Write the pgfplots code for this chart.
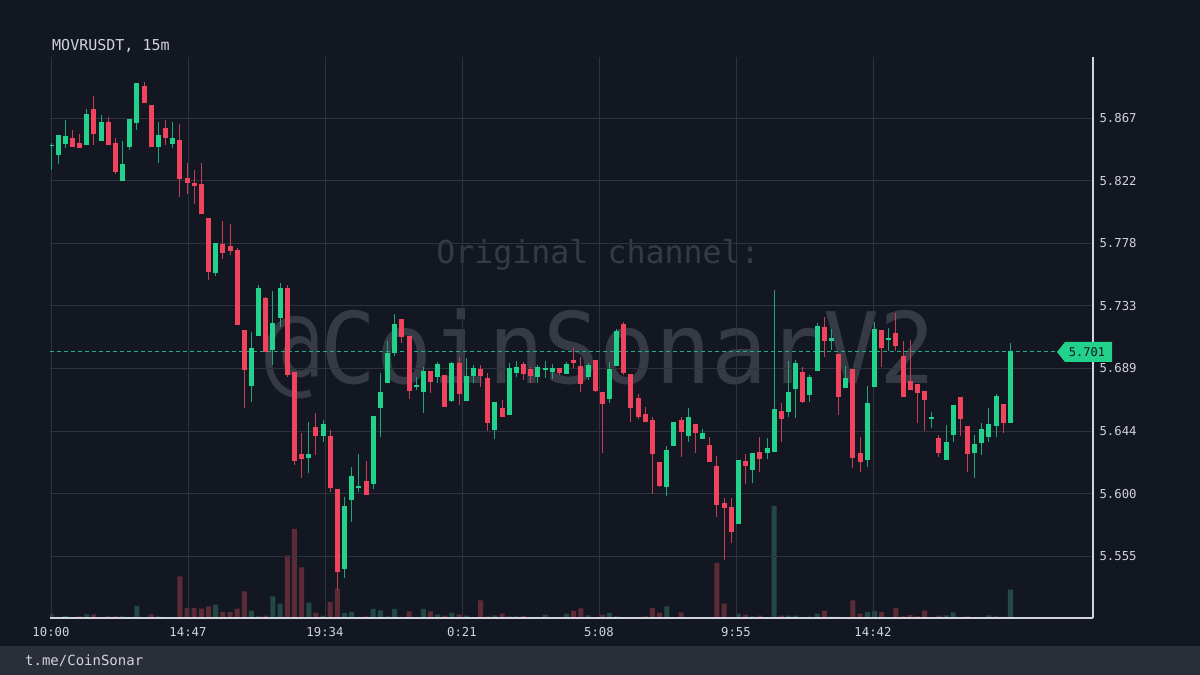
\documentclass[border=0pt]{standalone}
\usepackage{pgfplots}
\pgfplotsset{compat=1.18}
\usepackage{pgfplotstable}
\usepackage{fontspec}
\setmainfont{DejaVu Sans Mono}

\definecolor{bg}{HTML}{131722}
\definecolor{foot}{HTML}{2A2E39}
\definecolor{gridc}{HTML}{2E323D}
\definecolor{lbl}{HTML}{D1D4DC}
\definecolor{wm}{HTML}{363A45}
\definecolor{upc}{HTML}{22D18B}
\definecolor{dnc}{HTML}{F0435D}
\definecolor{upw}{HTML}{1FA676}
\definecolor{dnw}{HTML}{C63E52}
\definecolor{upv}{HTML}{244843}
\definecolor{dnv}{HTML}{5C2B36}
\definecolor{dashc}{HTML}{1FB08A}

% i open high low close volume(px)
\pgfplotstableread{
i o h l c v
0 5.8470 5.8490 5.8300 5.8480 4
1 5.8407 5.8549 5.8340 5.8549 1
2 5.8485 5.8656 5.8460 5.8540 2
3 5.8528 5.8585 5.8464 5.8464 0.5
4 5.8492 5.8556 5.8456 5.8456 1.5
5 5.8478 5.8734 5.8478 5.8698 3.7
6 5.8734 5.8827 5.8478 5.8556 3.7
7 5.8506 5.8691 5.8506 5.8642 0.5
8 5.8642 5.8677 5.8478 5.8478 1.5
9 5.8492 5.8528 5.8271 5.8286 1.5
10 5.8222 5.8506 5.8222 5.8343 1.7
11 5.8464 5.8663 5.8442 5.8663 0.7
12 5.8634 5.8919 5.8585 5.8919 12
13 5.8898 5.8926 5.8777 5.8777 0.5
14 5.8763 5.8763 5.8464 5.8464 3.7
15 5.8464 5.8642 5.8350 5.8549 1.7
16 5.8599 5.8656 5.8478 5.8528 0.5
17 5.8485 5.8642 5.8456 5.8528 0.5
18 5.8513 5.8627 5.8108 5.8236 41.7
19 5.8243 5.8350 5.8129 5.8207 10
20 5.8207 5.8300 5.8058 5.8186 10
21 5.8200 5.8350 5.7987 5.7987 9.3
22 5.7958 5.7958 5.7517 5.7574 11.7
23 5.7567 5.7780 5.7545 5.7780 13.3
24 5.7773 5.7937 5.7666 5.7709 6
25 5.7759 5.7916 5.7695 5.7723 6
26 5.7730 5.7745 5.7197 5.7197 9.3
27 5.7161 5.7161 5.6606 5.6877 26.7
28 5.6763 5.7147 5.6649 5.7033 7.3
29 5.7119 5.7481 5.7119 5.7460 1.7
30 5.7389 5.7396 5.7005 5.7005 2.3
31 5.7019 5.7439 5.6912 5.7211 21.7
32 5.7247 5.7496 5.7183 5.7460 14.3
33 5.7460 5.7481 5.6827 5.6841 62.7
34 5.6862 5.6862 5.6200 5.6229 89
35 5.6279 5.6428 5.6108 5.6243 50.7
36 5.6253 5.6506 5.6144 5.6281 15.3
37 5.6471 5.6570 5.6274 5.6407 5
38 5.6407 5.6520 5.6364 5.6492 2.3
39 5.6407 5.6449 5.6008 5.6037 16
40 5.6030 5.6030 5.5311 5.5439 29.3
41 5.5460 5.5972 5.5396 5.5908 5
42 5.5951 5.6186 5.5795 5.6122 6
43 5.6037 5.6279 5.6008 5.6051 1
44 5.6086 5.6229 5.5987 5.5987 1.7
45 5.6065 5.6549 5.6030 5.6549 9
46 5.6606 5.6855 5.6400 5.6720 7.7
47 5.6784 5.7083 5.6784 5.6997 1.7
48 5.6997 5.7275 5.6976 5.7204 9
49 5.7240 5.7240 5.7069 5.7111 1
50 5.7119 5.7119 5.6670 5.6727 6.7
51 5.6755 5.6827 5.6734 5.6770 0.5
52 5.6720 5.6898 5.6570 5.6870 9
53 5.6870 5.6870 5.6713 5.6791 6.7
54 5.6827 5.6933 5.6784 5.6919 3.3
55 5.6841 5.6841 5.6613 5.6613 2.3
56 5.6656 5.6933 5.6649 5.6926 5
57 5.6926 5.6970 5.6627 5.6706 3.7
58 5.6656 5.6962 5.6656 5.6834 2.3
59 5.6834 5.6912 5.6784 5.6891 0.7
60 5.6884 5.6912 5.6755 5.6834 17.7
61 5.6819 5.6855 5.6442 5.6499 1.7
62 5.6449 5.6649 5.6386 5.6649 2.7
63 5.6606 5.6663 5.6542 5.6542 4.3
64 5.6556 5.6926 5.6556 5.6891 1.7
65 5.6855 5.6940 5.6827 5.6898 1.7
66 5.6919 5.6933 5.6805 5.6848 2
67 5.6884 5.6898 5.6784 5.6834 1
68 5.6827 5.6912 5.6784 5.6898 1
69 5.6884 5.6940 5.6819 5.6891 3.3
70 5.6862 5.6919 5.6812 5.6891 0.7
71 5.6891 5.6891 5.6841 5.6855 1
72 5.6848 5.6933 5.6848 5.6919 4.3
73 5.6948 5.7033 5.6891 5.6926 7
74 5.6905 5.6970 5.6720 5.6777 9.7
75 5.6827 5.6926 5.6805 5.6912 2.7
76 5.6948 5.6948 5.6720 5.6727 0.5
77 5.6720 5.6720 5.6288 5.6634 3.3
78 5.6670 5.6933 5.6642 5.6884 5
79 5.6905 5.7168 5.6905 5.7154 1.7
80 5.7204 5.7218 5.6841 5.6855 0.5
81 5.6848 5.6848 5.6506 5.6606 1
82 5.6677 5.6706 5.6528 5.6542 1
83 5.6563 5.6613 5.6506 5.6506 1.7
84 5.6520 5.6542 5.5994 5.6279 10
85 5.6222 5.6222 5.6044 5.6051 5.3
86 5.6044 5.6335 5.5980 5.6307 11.7
87 5.6335 5.6506 5.6335 5.6506 0.5
88 5.6520 5.6542 5.6257 5.6435 5.7
89 5.6407 5.6606 5.6364 5.6542 0.5
90 5.6492 5.6492 5.6286 5.6428 0.5
91 5.6385 5.6456 5.6385 5.6428 0.5
92 5.6343 5.6400 5.6222 5.6222 0.5
93 5.6193 5.6264 5.5830 5.5915 55
94 5.5930 5.5965 5.5524 5.5894 14.3
95 5.5901 5.5965 5.5645 5.5723 1
96 5.5781 5.6236 5.5781 5.6236 4.3
97 5.6229 5.6279 5.6065 5.6193 3.3
98 5.6165 5.6286 5.6072 5.6286 1.7
99 5.6293 5.6400 5.6150 5.6243 2.3
100 5.6286 5.6392 5.6243 5.6321 0.7
101 5.6293 5.7446 5.6293 5.6599 112
102 5.6585 5.6642 5.6364 5.6528 2.3
103 5.6578 5.6940 5.6542 5.6720 2.3
104 5.6741 5.6948 5.6535 5.6926 2.3
105 5.6862 5.6898 5.6642 5.6649 0.5
106 5.6699 5.6841 5.6649 5.6827 1.3
107 5.6870 5.7211 5.6870 5.7190 4
108 5.7183 5.7254 5.6970 5.7083 7.3
109 5.7083 5.7168 5.7019 5.7104 1.3
110 5.6990 5.6990 5.6556 5.6684 1.3
111 5.6748 5.6905 5.6748 5.6819 0.7
112 5.6884 5.6884 5.6179 5.6250 17.7
113 5.6288 5.6400 5.6150 5.6222 4.3
114 5.6236 5.6763 5.6186 5.6642 6
115 5.6755 5.7218 5.6755 5.7168 7
116 5.7161 5.7161 5.6898 5.7033 6
117 5.7090 5.7175 5.7012 5.7104 0.7
118 5.7140 5.7282 5.7012 5.7047 10
119 5.6976 5.7083 5.6684 5.6684 1.7
120 5.6798 5.7090 5.6734 5.6734 3
121 5.6777 5.6777 5.6499 5.6713 1.7
122 5.6727 5.6727 5.6442 5.6663 7.3
123 5.6528 5.6578 5.6464 5.6542 0.7
124 5.6392 5.6414 5.6257 5.6286 2.3
125 5.6236 5.6485 5.6236 5.6364 2.7
126 5.6414 5.6627 5.6364 5.6627 5.7
127 5.6684 5.6684 5.6407 5.6528 1
128 5.6478 5.6478 5.6150 5.6279 1.7
129 5.6286 5.6414 5.6108 5.6349 0.7
130 5.6357 5.6499 5.6272 5.6456 0.7
131 5.6400 5.6606 5.6364 5.6492 2.7
132 5.6478 5.6706 5.6400 5.6691 1.7
133 5.6634 5.6634 5.6428 5.6499 1.3
134 5.6499 5.7069 5.6499 5.7010 28.3
}\candles

\pgfplotsset{
  panel/.style={
    at={(50pt,57pt)}, anchor=south west,
    scale only axis, width=1043pt, height=561pt,
    xmin=-0.14, xmax=145.53,
  },
  up/.style={restrict expr to domain={\thisrow{c}-\thisrow{o}}{0:1}},
  down/.style={restrict expr to domain={\thisrow{c}-\thisrow{o}}{-1:-0.00001}},
  stick/.style 2 args={only marks, mark=*, mark size=0pt,
    mark options={draw opacity=0, fill opacity=0},
    error bars/y dir=both, error bars/y explicit, error bars/error mark=none,
    error bars/error bar style={line width=#2, color=#1, opacity=1}},
}

\begin{document}
\begin{tikzpicture}
\fill[bg] (0,0) rectangle (1200pt,675pt);
\fill[foot] (0,0) rectangle (1200pt,29pt);
\node[anchor=west, inner sep=0, text=lbl, font=\fontsize{15}{15}\selectfont] at (52pt,629pt) {MOVRUSDT, 15m};
\node[anchor=west, inner sep=0, text=lbl, font=\fontsize{14}{14}\selectfont] at (25pt,14pt) {t.me/CoinSonar};
\node[text=wm, inner sep=0, font=\fontsize{31.6}{32}\selectfont] at (598pt,420pt) {Original channel:};
\node[text=wm, inner sep=0, font=\fontsize{93}{93}\selectfont, yscale=1.06] at (600pt,321pt) {@CoinSonarV2};

% volume
\begin{axis}[panel, ymin=0, ymax=561, hide axis]
  \addplot[up, ybar, bar width=5pt, bar shift=0pt, fill=upv, draw=none]
    table[x=i, y=v] {\candles};
  \addplot[down, ybar, bar width=5pt, bar shift=0pt, fill=dnv, draw=none]
    table[x=i, y=v] {\candles};
\end{axis}

% price
\begin{axis}[panel,
  ymin=5.5111, ymax=5.9104,
  axis x line*=bottom, axis y line*=right,
  axis line style={lbl, line width=1.2pt},
  xtick={0,19.1333,38.2667,57.4,76.5333,95.6667,114.8},
  xticklabels={10:00,14:47,19:34,0:21,5:08,9:55,14:42},
  ytick={5.5550,5.5996,5.6442,5.6887,5.7333,5.7779,5.8224,5.8670},
  yticklabels={5.555,5.600,5.644,5.689,5.733,5.778,5.822,5.867},
  grid=major, major grid style={gridc, line width=0.9pt},
  major tick length=0pt,
  ticklabel style={font=\fontsize{12.3}{13}\selectfont, text=lbl},
  xticklabel style={yshift=-6pt},
  yticklabel style={anchor=west, xshift=3pt},
]
  \addplot[dashc, dash pattern=on 4pt off 3pt, line width=1.2pt]
    coordinates {(-0.14,5.701) (140.5,5.701)};

  \addplot[up, stick={upw}{1pt}]
    table[x=i, y expr={(\thisrow{h}+\thisrow{l})/2}, y error expr={(\thisrow{h}-\thisrow{l})/2}] {\candles};
  \addplot[down, stick={dnw}{1pt}]
    table[x=i, y expr={(\thisrow{h}+\thisrow{l})/2}, y error expr={(\thisrow{h}-\thisrow{l})/2}] {\candles};

  \addplot[up, stick={upc}{5pt}]
    table[x=i, y expr={(\thisrow{o}+\thisrow{c})/2}, y error expr={max(abs(\thisrow{c}-\thisrow{o})/2,0.0004)}] {\candles};
  \addplot[down, stick={dnc}{5pt}]
    table[x=i, y expr={(\thisrow{o}+\thisrow{c})/2}, y error expr={max(abs(\thisrow{c}-\thisrow{o})/2,0.0004)}] {\candles};
\end{axis}

% last price tag
\fill[upc] (1057pt,323pt) -- (1065pt,333pt) -- (1112pt,333pt) -- (1112pt,313pt) -- (1065pt,313pt) -- cycle;
\node[text=bg, inner sep=0, font=\fontsize{12}{13}\selectfont] at (1087pt,323pt) {5.701};

\pgfresetboundingbox
\path (0,0) rectangle (1200pt,675pt);
\end{tikzpicture}
\end{document}
